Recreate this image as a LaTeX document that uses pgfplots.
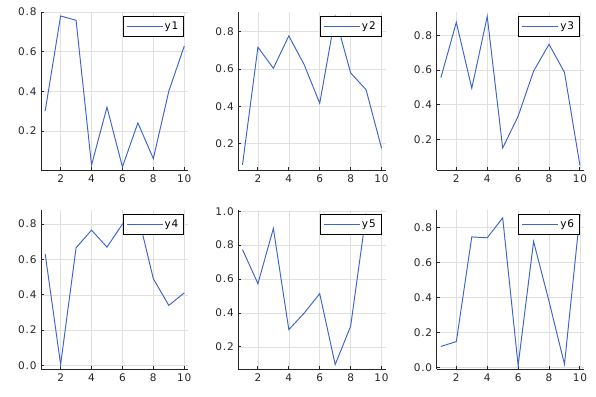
\documentclass[border=0pt]{standalone}
\usepackage{pgfplots}
\pgfplotsset{compat=1.18}
\usepackage{fontspec}
\setmainfont{DejaVu Sans}[LetterSpace=8]
\definecolor{lc}{RGB}{60,100,205}
\tikzset{ser/.style={color=lc, draw=lc, line width=0.95pt, mark=none}}
\pgfplotsset{
 myax/.style={
  scale only axis, width=147.4pt,
  axis lines*=left, tick align=inside, major tick length=3pt,
  xmin=0.73, xmax=10.27, xtick={2,4,6,8,10},
  grid=major, major grid style={black!12, line width=0.5pt},
  axis line style={line width=0.9pt, black!85},
  tick style={line width=0.9pt, black!85},
  ticklabel style={font=\fontsize{10.5}{12}\selectfont, text=black!85},
  yticklabel style={xshift=-1pt},
  xticklabel style={yshift=-1pt},
  /pgf/number format/assume math mode=true,
  yticklabel style={/pgf/number format/.cd, fixed, fixed zerofill, precision=1},
  legend style={at={(1,1)}, anchor=north east, xshift=-4pt, yshift=-4pt, draw=black, line width=1pt, fill=white, font=\fontsize{10.5}{12}\selectfont, inner xsep=3.5pt, inner ysep=3.5pt},
  legend image code/.code={\fill[lc, draw=none] (0pt,-0.55pt) rectangle (36pt,0.55pt);},
 }
}
\begin{document}
\begin{tikzpicture}
\path[use as bounding box] (0,0) rectangle (596pt,396pt);
% row 1
\begin{axis}[myax, at={(41pt,226pt)}, anchor=south west, height=158pt,
  ymin=0.0035, ymax=0.8, ytick={0.2,0.4,0.6,0.8}]
\addplot[ser] coordinates {(1,0.301) (2,0.780) (3,0.758) (4,0.028) (5,0.320) (6,0.019) (7,0.241) (8,0.061) (9,0.400) (10,0.628)};
\addlegendentry{y1\hspace{9pt}}
\end{axis}
\begin{axis}[myax, at={(238.3pt,226pt)}, anchor=south west, height=158pt,
  ymin=0.058, ymax=0.906, ytick={0.2,0.4,0.6,0.8}]
\addplot[ser] coordinates {(1,0.085) (2,0.717) (3,0.604) (4,0.778) (5,0.622) (6,0.416) (7,0.882) (8,0.579) (9,0.489) (10,0.175)};
\addlegendentry{y2\hspace{9pt}}
\end{axis}
\begin{axis}[myax, at={(436.7pt,226pt)}, anchor=south west, height=158pt,
  ymin=0.022, ymax=0.936, ytick={0.2,0.4,0.6,0.8}]
\addplot[ser] coordinates {(1,0.556) (2,0.876) (3,0.495) (4,0.910) (5,0.149) (6,0.333) (7,0.594) (8,0.749) (9,0.587) (10,0.048)};
\addlegendentry{y3\hspace{9pt}}
\end{axis}
% row 2
\begin{axis}[myax, at={(41pt,27pt)}, anchor=south west, height=159pt,
  ymin=-0.02, ymax=0.88, ytick={0,0.2,0.4,0.6,0.8}]
\addplot[ser] coordinates {(1,0.632) (2,0.005) (3,0.666) (4,0.766) (5,0.670) (6,0.800) (7,0.855) (8,0.491) (9,0.340) (10,0.411)};
\addlegendentry{y4\hspace{9pt}}
\end{axis}
\begin{axis}[myax, at={(238.3pt,27pt)}, anchor=south west, height=159pt,
  ymin=0.07, ymax=1.007, ytick={0.2,0.4,0.6,0.8,1.0}]
\addplot[ser] coordinates {(1,0.774) (2,0.573) (3,0.898) (4,0.302) (5,0.400) (6,0.514) (7,0.096) (8,0.322) (9,0.982) (10,0.900)};
\addlegendentry{y5\hspace{9pt}}
\end{axis}
\begin{axis}[myax, at={(436.7pt,27pt)}, anchor=south west, height=159pt,
  ymin=-0.01, ymax=0.90, ytick={0,0.2,0.4,0.6,0.8}]
\addplot[ser] coordinates {(1,0.119) (2,0.147) (3,0.746) (4,0.741) (5,0.855) (6,0.010) (7,0.720) (8,0.377) (9,0.017) (10,0.875)};
\addlegendentry{y6\hspace{9pt}}
\end{axis}
\end{tikzpicture}
\end{document}
